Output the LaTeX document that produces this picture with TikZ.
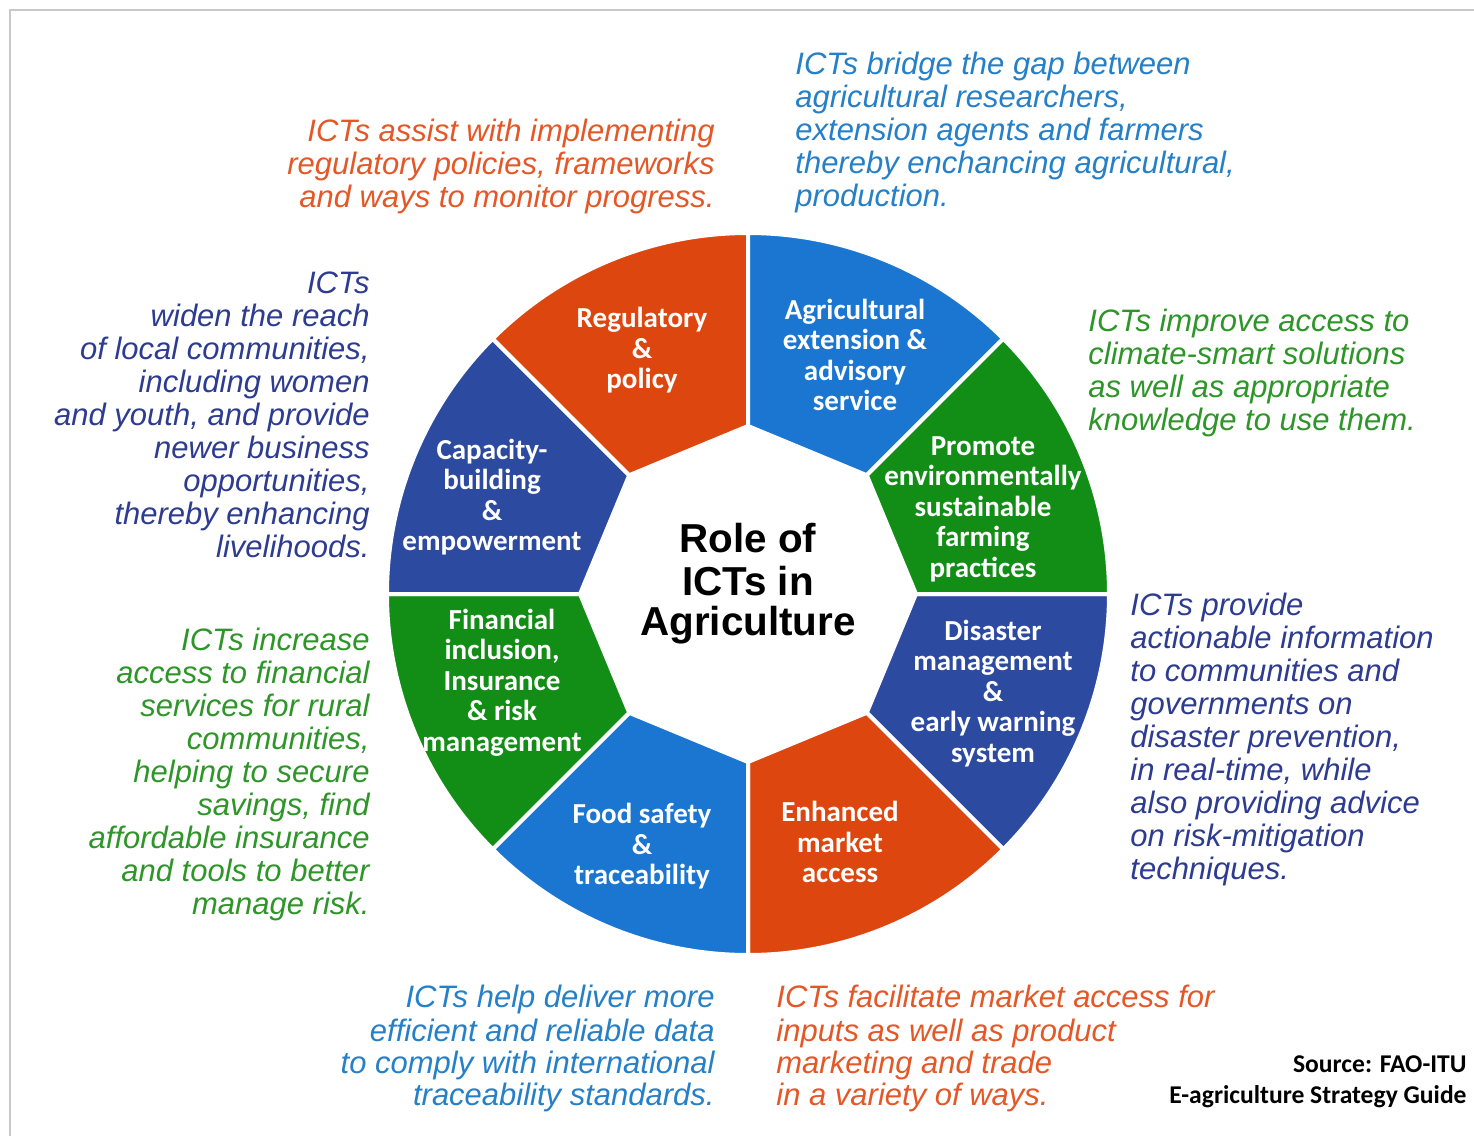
\documentclass[tikz,border=0pt]{standalone}
\usepackage{fontspec}
\setmainfont{Liberation Sans}
\newfontfamily\calfont{Carlito}
\definecolor{segOrange}{RGB}{222,70,16}
\definecolor{segBlue}{RGB}{26,118,208}
\definecolor{segGreen}{RGB}{18,141,22}
\definecolor{segNavy}{RGB}{44,74,160}
\definecolor{txOrange}{RGB}{228,88,40}
\definecolor{txBlue}{RGB}{37,128,200}
\definecolor{txGreen}{RGB}{46,150,40}
\definecolor{txNavy}{RGB}{45,60,145}
\definecolor{frameGray}{RGB}{200,200,200}
\tikzset{
  seg/.style={draw=white, line width=2pt, line join=miter},
  ann/.style={font=\fontsize{15.5}{16.5}\selectfont\itshape, inner sep=0pt},
  annb/.style={font=\fontsize{15.5}{16}\selectfont\itshape, inner sep=0pt},
  seglabel/.style={font=\calfont\bfseries\fontsize{14.5}{15.25}\selectfont, text=white, align=center, inner sep=0pt},
  title/.style={font=\bfseries\fontsize{20.2}{20}\selectfont, text=black, align=center, inner sep=0pt},
  srcstyle/.style={font=\calfont\bfseries\fontsize{12.8}{15.5}\selectfont, text=black, align=right, inner sep=0pt},
  frameline/.style={draw=frameGray, line width=1pt}
}
\begin{document}
\begin{tikzpicture}[x=0.5pt,y=-0.5pt]
\useasboundingbox (0,0) rectangle (1474,1136);
\fill[white] (0,0) rectangle (1474,1136);
\draw[frameline] (10,1136) -- (10,10) -- (1474,10);

\begin{scope}[shift={(748,594)}]
  \foreach \k/\c in {0/segNavy,1/segOrange,2/segBlue,3/segGreen,4/segNavy,5/segOrange,6/segBlue,7/segGreen}{
    \pgfmathsetmacro\sa{45*\k}
    \pgfmathsetmacro\sb{45*\k+45}
    \filldraw[seg, fill=\c] (\sa:168) -- (\sa:361) arc[start angle=\sa, end angle=\sb, radius=361] -- (\sb:168) -- cycle;
  }
\end{scope}

% segment labels
\node[seglabel] (reg) at (642,352) {\strut Regulatory\\\&\\policy\strut};
\node[seglabel] (ext) at (855,359) {\strut Agricultural\\extension \&\\advisory\\service\strut};
\node[seglabel] (env) at (983,510) {\strut Promote\\environmentally\\sustainable\\farming\\practices\strut};
\node[seglabel] (dis) at (993,695) {\strut Disaster\\management\\\&\\early warning\\system\strut};
\node[seglabel] (mkt) at (840,846) {\strut Enhanced\\market\\access\strut};
\node[seglabel] (food) at (642,848) {\strut Food safety\\\&\\traceability\strut};
\node[seglabel] (fin) at (502,684) {\strut Financial\\inclusion,\\Insurance\\\& risk\\management\strut};
\node[seglabel] (cap) at (492,499) {\strut Capacity-\\building\\\&\\empowerment\strut};

% title
\node[title] (ttl) at (748,585) {\strut Role of\\ICTs in\\Agriculture\strut};

% annotations
\node[ann, text=txOrange, anchor=east, align=right] (aReg) at (715,168)
  {\strut ICTs assist with implementing\\regulatory policies, frameworks\\and ways to monitor progress.\strut};
\node[ann, text=txBlue, anchor=west, align=left] (aExt) at (795,134)
  {\strut ICTs bridge the gap between\\agricultural researchers,\\extension agents and farmers\\thereby enchancing agricultural,\\production.\strut};
\node[ann, text=txGreen, anchor=west, align=left] (aEnv) at (1088,374)
  {\strut ICTs improve access to\\climate-smart solutions\\as well as appropriate\\knowledge to use them.\strut};
\node[ann, text=txNavy, anchor=west, align=left] (aDis) at (1130,741)
  {\strut ICTs provide\\actionable information\\to communities and\\governments on\\disaster prevention,\\in real-time, while\\also providing advice\\on risk-mitigation\\techniques.\strut};
\node[ann, text=txNavy, anchor=east, align=right] (aCap) at (370,419)
  {\strut ICTs\\widen the reach\\of local communities,\\including women\\and youth, and provide\\newer business\\opportunities,\\thereby enhancing\\livelihoods.\strut};
\node[ann, text=txGreen, anchor=east, align=right] (aFin) at (370,776)
  {\strut ICTs increase\\access to financial\\services for rural\\communities,\\helping to secure\\savings, find\\affordable insurance\\and tools to better\\manage risk.\strut};
\node[annb, text=txBlue, anchor=east, align=right] (aFood) at (715,1050)
  {\strut ICTs help deliver more\\efficient and reliable data\\to comply with international\\traceability standards.\strut};
\node[annb, text=txOrange, anchor=west, align=left] (aMkt) at (776,1050)
  {\strut ICTs facilitate market access for\\inputs as well as product\\marketing and trade\\in a variety of ways.\strut};

% source
\node[srcstyle, anchor=east] (src) at (1467,1082) {\strut Source: FAO-ITU\\E-agriculture Strategy Guide\strut};
\end{tikzpicture}
\end{document}
